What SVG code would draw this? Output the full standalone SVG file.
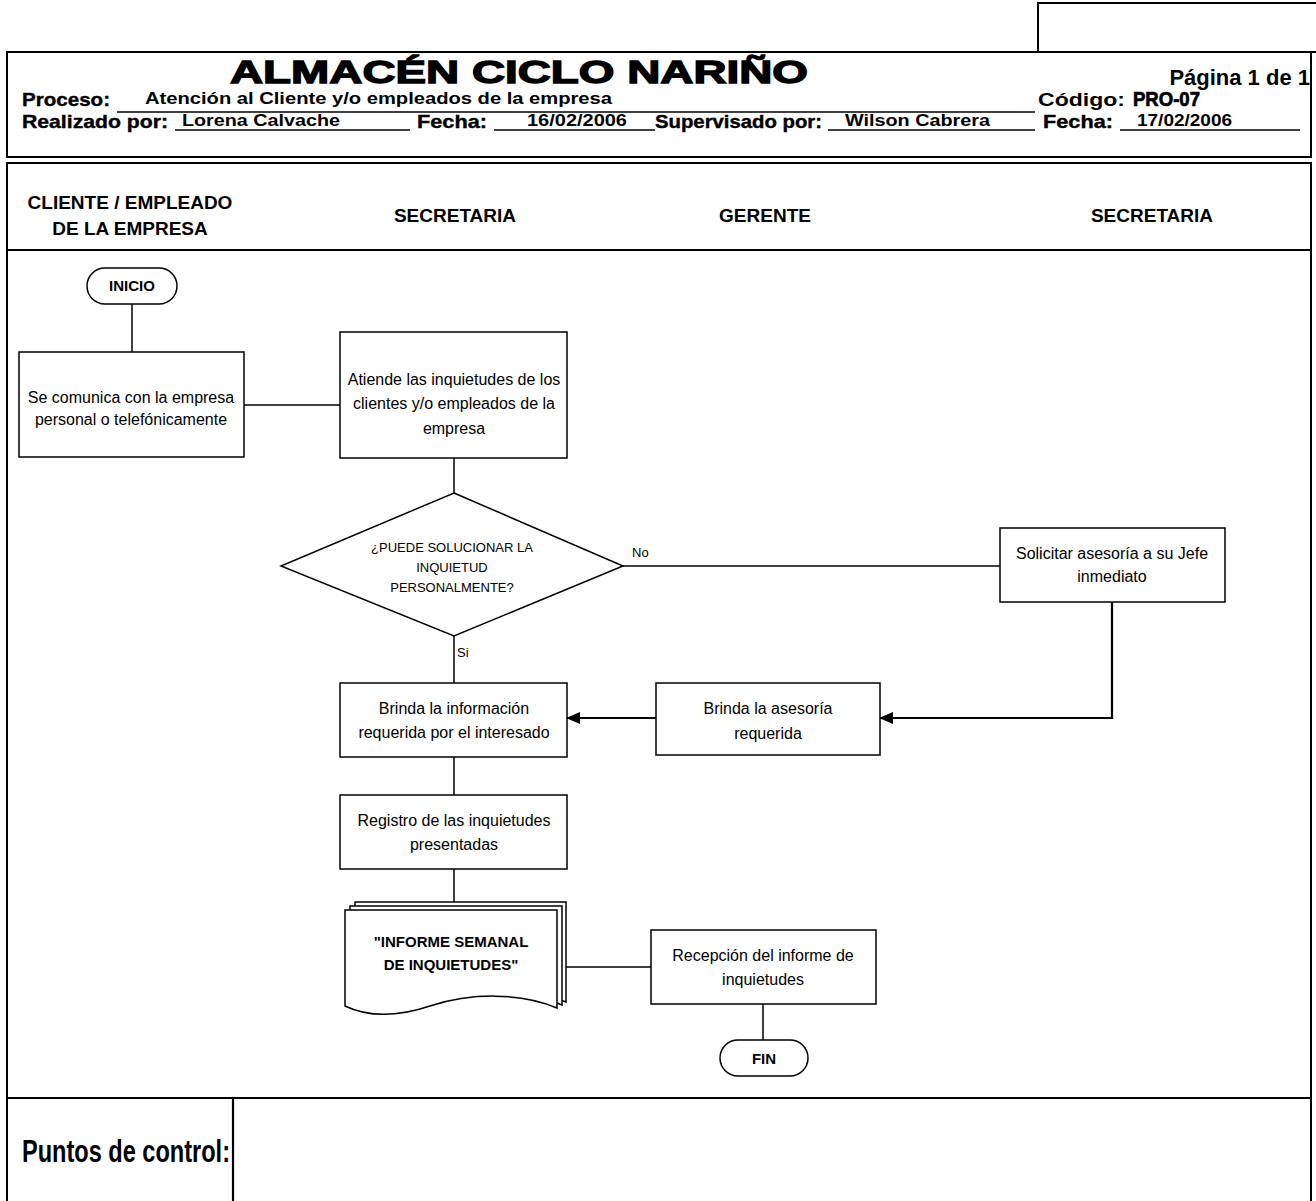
<svg xmlns="http://www.w3.org/2000/svg" width="1316" height="1201" viewBox="0 0 1316 1201">
  <style>
    .frame { fill: #fff; stroke: #000; stroke-width: 2; }
    .box { fill: #fff; stroke: #000; stroke-width: 1.5; }
    .line { fill: none; stroke: #000; stroke-width: 1.5; }
    .thick { fill: none; stroke: #000; stroke-width: 2.2; }
    .hdr { font-family: "Liberation Sans", Arial, sans-serif; font-weight: bold; fill: #000; }
    .lane { font-family: "Liberation Sans", Arial, sans-serif; font-weight: bold; font-size: 19px; text-anchor: middle; fill: #000; }
    .t { font-family: "Liberation Sans", Arial, sans-serif; font-size: 16px; text-anchor: middle; fill: #000; }
    .tb { font-family: "Liberation Sans", Arial, sans-serif; font-size: 15px; font-weight: bold; text-anchor: middle; fill: #000; }
    .small { font-family: "Liberation Sans", Arial, sans-serif; font-size: 13px; fill: #000; }
  </style>
  <defs>
    <marker id="arrow" markerWidth="14" markerHeight="12" refX="13" refY="6" orient="auto" markerUnits="userSpaceOnUse">
      <path d="M0,0 L14,6 L0,12 Z" fill="#000"/>
    </marker>
  </defs>

  <rect width="1316" height="1201" fill="#fff"/>

  <!-- header block -->
  <g id="header">
    <rect x="1038" y="3" width="290" height="49" class="frame" stroke-width="1.5"/>
    <rect x="7" y="52" width="1304" height="105" class="frame"/>
    <text x="230" y="83" class="hdr" font-size="31" stroke="#000" stroke-width="1.3" textLength="578" lengthAdjust="spacingAndGlyphs">ALMACÉN CICLO NARIÑO</text>
    <text x="1310" y="85" class="hdr" font-size="22" text-anchor="end">Página 1 de 1</text>

    <text x="22" y="106" class="hdr" font-size="19" stroke="#000" stroke-width="0.4" textLength="88" lengthAdjust="spacingAndGlyphs">Proceso:</text>
    <text x="145" y="104" class="hdr" font-size="17" textLength="467" lengthAdjust="spacingAndGlyphs">Atención al Cliente y/o empleados de la empresa</text>
    <line x1="117" y1="112" x2="1035" y2="112" class="line"/>
    <text x="1038" y="106" class="hdr" font-size="18" textLength="87" lengthAdjust="spacingAndGlyphs">Código:</text>
    <!-- outlined code label -->
    <text x="1133" y="106" class="hdr" font-size="20" fill="#fff" stroke="#000" stroke-width="0.7" textLength="67" lengthAdjust="spacingAndGlyphs">PRO-07</text>

    <text x="22" y="128" class="hdr" font-size="19" stroke="#000" stroke-width="0.4" textLength="146" lengthAdjust="spacingAndGlyphs">Realizado por:</text>
    <text x="182" y="126" class="hdr" font-size="16.5" textLength="158" lengthAdjust="spacingAndGlyphs">Lorena Calvache</text>
    <line x1="175" y1="130" x2="410" y2="130" class="line"/>
    <text x="417" y="128" class="hdr" font-size="19" stroke="#000" stroke-width="0.4" textLength="70" lengthAdjust="spacingAndGlyphs">Fecha:</text>
    <text x="527" y="126" class="hdr" font-size="16.5" textLength="100" lengthAdjust="spacingAndGlyphs">16/02/2006</text>
    <line x1="494" y1="130" x2="655" y2="130" class="line"/>
    <text x="655" y="128" class="hdr" font-size="19" stroke="#000" stroke-width="0.4" textLength="167" lengthAdjust="spacingAndGlyphs">Supervisado por:</text>
    <text x="845" y="126" class="hdr" font-size="16.5" textLength="145" lengthAdjust="spacingAndGlyphs">Wilson Cabrera</text>
    <line x1="828" y1="130" x2="1035" y2="130" class="line"/>
    <text x="1043" y="128" class="hdr" font-size="19" stroke="#000" stroke-width="0.4" textLength="70" lengthAdjust="spacingAndGlyphs">Fecha:</text>
    <text x="1137" y="126" class="hdr" font-size="16.5" textLength="95" lengthAdjust="spacingAndGlyphs">17/02/2006</text>
    <line x1="1120" y1="130" x2="1300" y2="130" class="line"/>
  </g>

  <!-- main frame with swimlane headers -->
  <g id="lanes">
    <rect x="7" y="163" width="1304" height="1050" class="frame"/>
    <line x1="7" y1="250" x2="1311" y2="250" class="thick"/>
    <line x1="7" y1="1098" x2="1311" y2="1098" class="thick"/>
    <line x1="233" y1="1098" x2="233" y2="1201" class="thick"/>
    <text class="lane"><tspan x="130" y="209">CLIENTE / EMPLEADO</tspan><tspan x="130" y="235">DE LA EMPRESA</tspan></text>
    <text x="455" y="222" class="lane">SECRETARIA</text>
    <text x="765" y="222" class="lane">GERENTE</text>
    <text x="1152" y="222" class="lane">SECRETARIA</text>
    <text x="22" y="1162" class="hdr" font-size="32" textLength="208" lengthAdjust="spacingAndGlyphs">Puntos de control:</text>
  </g>

  <!-- connectors -->
  <g id="connectors">
    <line x1="132" y1="304" x2="132" y2="352" class="line"/>
    <line x1="244" y1="405" x2="340" y2="405" class="line"/>
    <line x1="454" y1="458" x2="454" y2="493" class="line"/>
    <line x1="623" y1="566" x2="1000" y2="566" class="line"/>
    <text x="632" y="557" class="small">No</text>
    <polyline points="1112,602 1112,718 880,718" class="thick" marker-end="url(#arrow)"/>
    <line x1="656" y1="718" x2="567" y2="718" class="thick" marker-end="url(#arrow)"/>
    <line x1="454" y1="636" x2="454" y2="683" class="line"/>
    <text x="457" y="657" class="small">Si</text>
    <line x1="454" y1="757" x2="454" y2="795" class="line"/>
    <line x1="454" y1="869" x2="454" y2="902" class="line"/>
    <line x1="566" y1="967" x2="651" y2="967" class="line"/>
    <line x1="763" y1="1004" x2="763" y2="1040" class="line"/>
  </g>

  <!-- nodes -->
  <g id="inicio">
    <rect x="87" y="268" width="90" height="36" rx="18" ry="18" class="box"/>
    <text x="132" y="291" class="tb">INICIO</text>
  </g>

  <g id="comunica">
    <rect x="19" y="352" width="225" height="105" class="box"/>
    <text class="t"><tspan x="131" y="403">Se comunica con la empresa</tspan><tspan x="131" y="425">personal o telefónicamente</tspan></text>
  </g>

  <g id="atiende">
    <rect x="340" y="332" width="227" height="126" class="box"/>
    <text class="t"><tspan x="454" y="385">Atiende las inquietudes de los</tspan><tspan x="454" y="409">clientes y/o empleados de la</tspan><tspan x="454" y="434">empresa</tspan></text>
  </g>

  <g id="decision">
    <polygon points="454,493 623,566 454,636 281,566" class="box"/>
    <text class="small" text-anchor="middle"><tspan x="452" y="552">¿PUEDE SOLUCIONAR LA</tspan><tspan x="452" y="572">INQUIETUD</tspan><tspan x="452" y="592">PERSONALMENTE?</tspan></text>
  </g>

  <g id="solicitar">
    <rect x="1000" y="528" width="225" height="74" class="box"/>
    <text class="t"><tspan x="1112" y="559">Solicitar asesoría a su Jefe</tspan><tspan x="1112" y="582">inmediato</tspan></text>
  </g>

  <g id="asesoria">
    <rect x="656" y="683" width="224" height="72" class="box"/>
    <text class="t"><tspan x="768" y="714">Brinda la asesoría</tspan><tspan x="768" y="739">requerida</tspan></text>
  </g>

  <g id="informacion">
    <rect x="340" y="683" width="227" height="74" class="box"/>
    <text class="t"><tspan x="454" y="714">Brinda la información</tspan><tspan x="454" y="738">requerida por el interesado</tspan></text>
  </g>

  <g id="registro">
    <rect x="340" y="795" width="227" height="74" class="box"/>
    <text class="t"><tspan x="454" y="826">Registro de las inquietudes</tspan><tspan x="454" y="850">presentadas</tspan></text>
  </g>

  <!-- stacked multi-document shape -->
  <g id="informe">
    <path d="M355,902 H566 V1002 C529,986 479,987 439,1000 C409,1010 379,1012 355,1000 Z" class="box" stroke-width="1.2"/>
    <path d="M350,906 H562 V1005 C525,989 475,990 435,1003 C405,1013 375,1015 350,1003 Z" class="box" stroke-width="1.2"/>
    <path d="M345,910 H557 V1008 C520,992 470,993 430,1006 C400,1016 370,1018 345,1006 Z" class="box" stroke-width="1.2"/>
    <text class="tb"><tspan x="451" y="947">"INFORME SEMANAL</tspan><tspan x="451" y="970">DE INQUIETUDES"</tspan></text>
  </g>

  <g id="recepcion">
    <rect x="651" y="930" width="225" height="74" class="box"/>
    <text class="t"><tspan x="763" y="961">Recepción del informe de</tspan><tspan x="763" y="985">inquietudes</tspan></text>
  </g>

  <g id="fin">
    <rect x="720" y="1040" width="88" height="36" rx="18" ry="18" class="box"/>
    <text x="764" y="1064" class="tb">FIN</text>
  </g>
</svg>
